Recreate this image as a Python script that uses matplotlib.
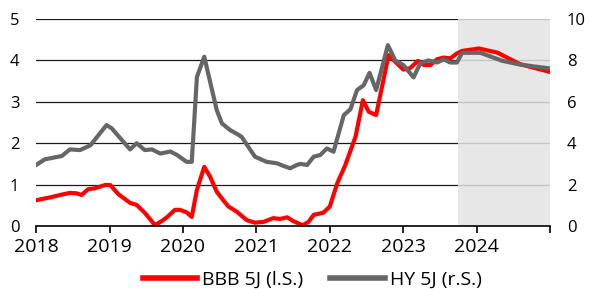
import numpy as np
import matplotlib
matplotlib.use("Agg")
import matplotlib.pyplot as plt

plt.rcParams['font.family'] = ['Open Sans', 'DejaVu Sans']

# BBB 5J (left axis, %), dates as decimal years
bbb_t = [2018.00, 2018.10, 2018.19, 2018.33, 2018.46, 2018.55, 2018.62, 2018.71, 2018.80, 2018.94,
         2019.01, 2019.12, 2019.28, 2019.37, 2019.48, 2019.62, 2019.73, 2019.80, 2019.89, 2019.96,
         2020.05, 2020.12, 2020.19, 2020.29, 2020.37, 2020.46, 2020.55, 2020.62, 2020.73, 2020.87,
         2020.98, 2021.10, 2021.23, 2021.32, 2021.42, 2021.50, 2021.63, 2021.71, 2021.78, 2021.91,
         2022.00, 2022.10, 2022.21, 2022.35, 2022.45, 2022.53, 2022.63, 2022.80, 2022.89, 2023.00,
         2023.09, 2023.20, 2023.28, 2023.37, 2023.46, 2023.55, 2023.64, 2023.73, 2023.80, 2024.03,
         2024.28, 2024.59, 2024.98]
bbb_v = [0.62, 0.66, 0.69, 0.75, 0.80, 0.79, 0.75, 0.89, 0.91, 0.99,
         0.99, 0.77, 0.56, 0.51, 0.32, 0.02, 0.14, 0.24, 0.39, 0.39,
         0.33, 0.22, 0.87, 1.43, 1.19, 0.83, 0.62, 0.47, 0.35, 0.14,
         0.08, 0.10, 0.19, 0.17, 0.21, 0.12, 0.02, 0.10, 0.27, 0.32,
         0.47, 1.03, 1.47, 2.16, 3.04, 2.76, 2.68, 4.13, 3.97, 3.78,
         3.81, 3.99, 3.89, 3.89, 4.03, 4.07, 4.05, 4.17, 4.23, 4.29,
         4.19, 3.91, 3.73]

# HY 5J (right axis, %)
hy_t = [2018.00, 2018.12, 2018.26, 2018.35, 2018.46, 2018.60, 2018.74, 2018.96, 2019.03, 2019.28,
        2019.37, 2019.48, 2019.58, 2019.69, 2019.83, 2019.92, 2020.05, 2020.12, 2020.19, 2020.29,
        2020.46, 2020.53, 2020.64, 2020.76, 2020.80, 2020.98, 2021.14, 2021.28, 2021.37, 2021.46,
        2021.55, 2021.60, 2021.69, 2021.78, 2021.87, 2021.96, 2022.05, 2022.19, 2022.28, 2022.37,
        2022.46, 2022.54, 2022.63, 2022.79, 2022.89, 2023.00, 2023.14, 2023.23, 2023.34, 2023.46,
        2023.55, 2023.64, 2023.73, 2023.80, 2024.05, 2024.34, 2024.59, 2024.98]
hy_v = [2.95, 3.22, 3.32, 3.38, 3.70, 3.67, 3.90, 4.88, 4.72, 3.70,
        4.00, 3.67, 3.70, 3.50, 3.60, 3.43, 3.10, 3.10, 7.20, 8.18,
        5.60, 4.96, 4.64, 4.40, 4.30, 3.35, 3.10, 3.03, 2.90, 2.79,
        2.95, 3.00, 2.95, 3.35, 3.43, 3.75, 3.59, 5.36, 5.64, 6.57,
        6.80, 7.40, 6.57, 8.74, 8.00, 7.78, 7.18, 7.86, 8.00, 7.90,
        8.05, 7.90, 7.90, 8.37, 8.37, 7.99, 7.80, 7.62]

years = [2018, 2019, 2020, 2021, 2022, 2023, 2024]
forecast_start = 2023.75

fig = plt.figure(figsize=(5.91, 2.89), dpi=100)
ax = fig.add_axes([0.061, 0.218, 0.870, 0.716])
ax2 = ax.twinx()

ax.set_xlim(2018, 2025)
ax.set_ylim(0, 5)
ax2.set_ylim(0, 10)

for y in range(1, 6):
    ax.axhline(y, color='#1a1a1a', lw=0.9, zorder=1)
ax.axvspan(forecast_start, 2025, color='#e3e3e3', alpha=0.85, lw=0, zorder=1.5)

l1, = ax.plot(bbb_t, bbb_v, color='#ff0000', lw=3.0, solid_joinstyle='round', zorder=3,
              label='BBB 5J (l.S.)')
l2, = ax2.plot(hy_t, hy_v, color='#666666', lw=3.0, solid_joinstyle='round', zorder=3,
               label='HY 5J (r.S.)')

for a in (ax, ax2):
    for s in ('top', 'left', 'right'):
        a.spines[s].set_visible(False)
ax2.spines['bottom'].set_visible(False)
ax.spines['bottom'].set_color('black')
ax.spines['bottom'].set_linewidth(1.2)
ax.spines['bottom'].set_zorder(4)

ax.set_xticks(years + [2025])
ax.set_xticklabels([str(y) for y in years] + [''])
ax.tick_params(axis='x', length=5, width=1.2, pad=4, labelsize=14, direction='out')
ax.set_yticks(range(0, 6))
ax.tick_params(axis='y', length=0, pad=12, labelsize=12)
ax2.set_yticks(range(0, 11, 2))
ax2.tick_params(axis='y', length=0, pad=12, labelsize=12)

fig.legend(handles=[l1, l2], loc='lower center', bbox_to_anchor=(0.528, -0.06), ncol=2,
           frameon=False, fontsize=14, handlelength=2.8, columnspacing=1.4, handletextpad=0.25)
for h in fig.legends[0].legend_handles:
    h.set_linewidth(4)

fig.savefig('out.png', dpi=100)
